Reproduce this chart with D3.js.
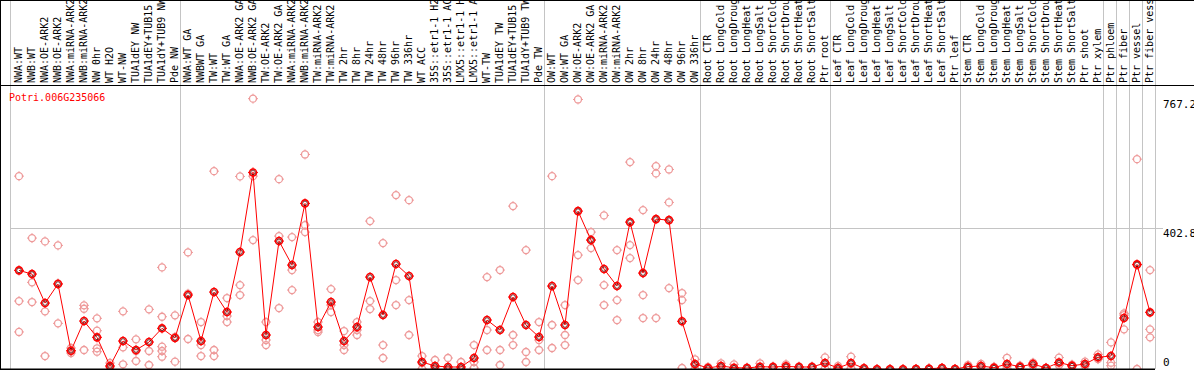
<!DOCTYPE html>
<html>
<head>
<meta charset="utf-8">
<script src="https://cdn.jsdelivr.net/npm/d3@7"></script>
<style>
  body { margin: 0; background: #fff; }
  svg { display: block; }
  text { font-family: "DejaVu Sans Mono", monospace; }
</style>
</head>
<body>
<div id="plot"></div>
<script>
// Gene shown in the plot
var geneId = "Potri.006G235066";

// Sample labels (as printed, truncated to 14 chars)
var labels = [
  "NWA:WT","NWB:WT","NWA:OE-ARK2","NWB:OE-ARK2","NWA:miRNA-ARK2","NWB:miRNA-ARK2","NW 0hr","WT H2O","WT-NW",
  "TUA1dEY NW","TUA1dEY+TUB15","TUA1dY+TUB9 NW","Pde NW",
  "NWA:WT GA","NWBWT GA","TW:WT","TW:WT GA","NWA:OE-ARK2 GA","NWB:OE-ARK2 GA","TW:OE-ARK2","TW:OE-ARK2 GA",
  "NWA:miRNA-ARK2","NWB:miRNA-ARK2","TW:miRNA-ARK2","TW:miRNA-ARK2","TW 2hr","TW 8hr","TW 24hr","TW 48hr",
  "TW 96hr","TW 336hr","WT ACC","35S::etr1-1 H2","35S::etr1-1 AC","LMX5::etr1-1 H","LMX5::etr1-1 A","WT-TW",
  "TUA1dEY TW","TUA1dEY+TUB15","TUA1dY+TUB9 TW","Pde TW",
  "OW:WT","OW:WT GA","OW:OE-ARK2","OW:OE-ARK2 GA","OW:miRNA-ARK2","OW:miRNA-ARK2","OW 2hr","OW 8hr","OW 24hr",
  "OW 48hr","OW 96hr","OW 336hr",
  "Root CTR","Root LongCold","Root LongDroug","Root LongHeat","Root LongSalt","Root ShortCold","Root ShortDrou",
  "Root ShortHeat","Root ShortSalt","Ptr root",
  "Leaf CTR","Leaf LongCold","Leaf LongDroug","Leaf LongHeat","Leaf LongSalt","Leaf ShortCold","Leaf ShortDrou",
  "Leaf ShortHeat","Leaf ShortSalt","Ptr leaf",
  "Stem CTR","Stem LongCold","Stem LongDroug","Stem LongHeat","Stem LongSalt","Stem ShortCold","Stem ShortDrou",
  "Stem ShortHeat","Stem ShortSalt","Ptr shoot","Ptr xylem","Ptr phloem","Ptr fiber","Ptr vessel","Ptr fiber vess"
];

// Mean expression per sample
var means = [
  284.9, 274.5, 193.1, 246.5, 59.2, 142.6, 96.8, 16.3, 86.5, 61.2, 83.6, 122.1, 94.9,
  215.6, 86.5, 224.0, 167.9, 336.3, 560.0, 103.3, 367.2, 299.8, 473.0, 125.8, 195.9, 86.5, 125.8, 266.1,
  159.4, 302.6, 268.9, 27.5, 16.3, 13.5, 13.5, 38.7, 145.4, 117.3, 210.0, 131.4, 97.7,
  240.8, 131.4, 451.4, 370.0, 288.6, 240.8, 420.5, 277.3, 428.9, 426.1, 141.8, 21.9,
  10.7, 16.3, 11.5, 10.7, 14.3, 13.5, 15.4, 13.5, 13.5, 24.7,
  10.7, 24.7, 9.8, 7.0, 7.0, 7.0, 7.9, 8.7, 10.7, 7.9,
  14.3, 16.3, 11.5, 21.9, 14.3, 21.9, 10.7, 26.1, 17.1, 21.9, 40.7, 44.4, 151.0, 301.7, 167.0
];

// Individual replicates per sample
var reps = [
  [549.6, 198.7, 111.9], [375.6, 251.2, 195.9], [366.3, 169.8, 44.3], [355.1, 136.1, 248.4],
  [66.8, 58.4, 52.8], [186.7, 177.1, 61.2], [150.2, 115.4, 66.0, 56.4], [24.7, 13.5, 6.5],
  [169.8, 68.8, 21.1], [91.2, 58.4, 30.3], [175.4, 58.4, 19.1], [293.3, 154.7, 70.5, 58.4, 42.4],
  [158.6, 28.4, 97.7],
  [335.4, 92.1, 219.2], [139.8, 75.2, 44.3], [563.6, 61.2, 44.3], [207.2, 156.6, 139.8],
  [548.8, 243.6, 215.6], [767.2, 549.6, 370.0], [139.8, 89.3, 75.2], [541.2, 381.2, 179.1],
  [378.4, 285.8, 229.6], [610.5, 412.1, 392.4], [139.8, 117.3, 111.7], [232.4, 187.5, 167.9],
  [114.5, 75.2, 61.2], [139.8, 117.3, 103.3], [423.3, 198.7, 176.3], [361.5, 75.2, 38.7],
  [496.3, 257.7, 187.5], [482.2, 201.5, 103.3], [44.3, 24.7, 7.9], [33.1, 10.7, 5.1],
  [38.7, 7.9, 5.1], [27.5, 7.9, 5.1], [75.2, 27.5, 10.7], [266.1, 117.3, 61.2],
  [285.8, 61.2, 19.1], [465.4, 103.3, 75.2], [341.9, 55.6, 27.5], [139.8, 89.3, 61.2],
  [549.6, 131.4, 66.8], [187.5, 103.3, 75.2], [765.0, 327.9, 257.7], [392.4, 370.0, 347.5],
  [439.3, 243.6, 187.5], [341.9, 201.5, 145.4], [589.0, 355.9, 319.4], [454.2, 215.6, 151.0],
  [577.7, 557.2, 151.0], [568.4, 475.8, 235.2], [221.2, 201.5, 10.7], [35.1, 19.1, 7.9],
  [7.9, 10.7, 13.5], [23.9, 14.0, 11.0], [21.0, 8.0, 6.0], [12.0, 10.0, 10.0], [23.9, 11.0, 8.0],
  [15.0, 13.0, 12.0], [21.0, 14.0, 11.0], [15.0, 13.0, 12.0], [15.0, 13.0, 12.0], [40.7, 23.9, 9.5],
  [16.3, 10.0, 6.0], [42.4, 22.0, 10.0], [10.0, 10.0, 9.0], [7.0, 7.0, 7.0], [7.0, 7.0, 7.0],
  [7.0, 7.0, 7.0], [7.9, 7.9, 7.9], [8.7, 8.7, 8.7], [10.7, 10.7, 10.7], [7.9, 7.9, 7.9],
  [19.0, 13.0, 11.0], [22.0, 15.0, 12.0], [14.0, 11.0, 10.0], [39.3, 16.0, 10.0], [17.0, 14.0, 12.0],
  [25.5, 24.0, 16.0], [11.0, 11.0, 10.0], [39.9, 19.1, 19.0], [14.3, 20.0, 17.0], [28.4, 16.3, 21.0],
  [49.1, 35.6, 37.0], [82.6, 25.5, 17.1], [164.2, 159.4, 119.3], [597.3, 299.9, 7.9], [285.7, 119.3, 96.8]
];

// Samples after which a separator is drawn
var groupEnds = [12, 40, 52, 62, 72, 83, 84, 85, 86, 87];

// Y axis labels
var yTicks = [0, 402.8, 767.2];
var yMax = 805.6;

var width = 1194, height = 370;
var headerBottom = 85, plotBottom = 369, plotRight = 1155;

var svg = d3.select("#plot")
  .append("svg")
    .attr("width", width)
    .attr("height", height);

var x = d3.scalePoint()
  .domain(d3.range(labels.length))
  .range([19, 1150]);

var y = d3.scaleLinear()
  .domain([0, yMax])
  .range([371.8, headerBottom]);

var grey = "#c4c4c4";

// left inner rule
svg.append("line")
  .attr("x1", 10.5).attr("x2", 10.5)
  .attr("y1", 0).attr("y2", plotBottom)
  .attr("stroke", grey);

// group separators
svg.selectAll(".sep")
  .data(groupEnds)
  .enter().append("line")
    .attr("class", "sep")
    .attr("x1", d => Math.round(x(d) + 5) + 0.5)
    .attr("x2", d => Math.round(x(d) + 5) + 0.5)
    .attr("y1", 0).attr("y2", plotBottom)
    .attr("stroke", grey);

// middle grid line
svg.append("line")
  .attr("x1", 10).attr("x2", 1163)
  .attr("y1", Math.round(y(yTicks[1])) + 0.5)
  .attr("y2", Math.round(y(yTicks[1])) + 0.5)
  .attr("stroke", grey);

// y labels
svg.selectAll(".ylab")
  .data(yTicks)
  .enter().append("text")
    .attr("class", "ylab")
    .attr("x", 1163)
    .attr("y", d => Math.min(y(d) + 9, 366))
    .style("font-size", "11px")
    .text(d => d === 0 ? "0" : d3.format(".1f")(d));

// sample labels in the header
svg.selectAll(".xlab")
  .data(labels)
  .enter().append("text")
    .attr("class", "xlab")
    .attr("transform", (d, i) => `translate(${x(i) + 2.5},83) rotate(-90)`)
    .style("font-size", "10px")
    .text(d => d);

// gene id
svg.append("text")
  .attr("x", 9)
  .attr("y", 100.5)
  .attr("fill", "#ff0000")
  .style("font-size", "10px")
  .text(geneId);

// marker: circle with small ticks
function marker(g, color, sw, inner) {
  g.append("circle")
    .attr("r", 3.5)
    .attr("fill", "none")
    .attr("stroke", color)
    .attr("stroke-width", sw);
  g.append("path")
    .attr("d", "M0,-3.5V-5M0,3.5V5M-3.5,0H-5M3.5,0H5")
    .attr("stroke", color)
    .attr("stroke-width", 1);
  if (inner) {
    g.append("circle")
      .attr("r", 2.3)
      .attr("fill", "none")
      .attr("stroke", inner)
      .attr("stroke-width", 0.8);
  }
}

var plot = svg.append("g");

// replicates
var repData = reps.flatMap((r, i) => r.map(v => ({ i: i, v: v })));
plot.selectAll(".rep")
  .data(repData)
  .enter().append("g")
    .attr("class", "rep")
    .attr("transform", d => `translate(${x(d.i)},${y(d.v)})`)
    .each(function() { marker(d3.select(this), "#ee9a9a", 1.3); });

// mean line
plot.append("path")
  .datum(means)
  .attr("fill", "none")
  .attr("stroke", "#ff0000")
  .attr("stroke-width", 1)
  .attr("d", d3.line()
    .x((d, i) => x(i))
    .y(d => y(d)));

// means
plot.selectAll(".mean")
  .data(means)
  .enter().append("g")
    .attr("class", "mean")
    .attr("transform", (d, i) => `translate(${x(i)},${y(d)})`)
    .each(function() { marker(d3.select(this), "#ff0000", 1.6, "#550000"); });

// black frame pieces
svg.append("line")
  .attr("x1", 0).attr("x2", width)
  .attr("y1", 0.5).attr("y2", 0.5)
  .attr("stroke", "#000");
svg.append("line")
  .attr("x1", 0).attr("x2", width)
  .attr("y1", headerBottom + 0.5).attr("y2", headerBottom + 0.5)
  .attr("stroke", "#000");
svg.append("line")
  .attr("x1", 0.5).attr("x2", 0.5)
  .attr("y1", 0).attr("y2", height)
  .attr("stroke", "#000");
svg.append("line")
  .attr("x1", 0).attr("x2", plotRight)
  .attr("y1", plotBottom + 0.5).attr("y2", plotBottom + 0.5)
  .attr("stroke", "#000")
  .attr("stroke-width", 2);
</script>
</body>
</html>
